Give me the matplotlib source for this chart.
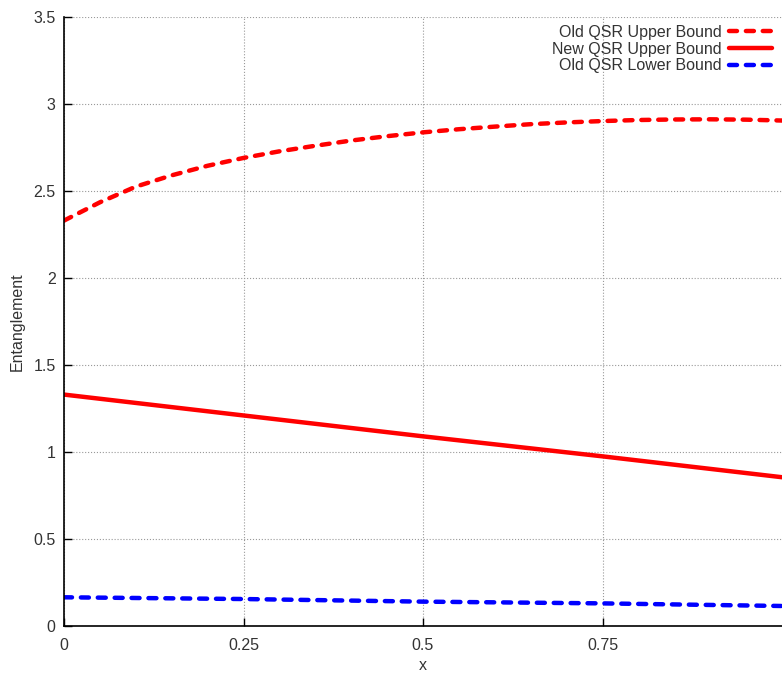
import matplotlib
matplotlib.use("Agg")
import matplotlib.pyplot as plt

# values
x = [0.0, 0.05, 0.1, 0.15, 0.2, 0.25, 0.3, 0.35, 0.4, 0.45, 0.5,
     0.55, 0.6, 0.65, 0.7, 0.75, 0.8, 0.85, 0.9, 0.95, 1.0]
old_upper = [2.33, 2.435, 2.525, 2.59, 2.645, 2.69, 2.728, 2.76, 2.79, 2.815, 2.837,
             2.855, 2.87, 2.884, 2.894, 2.902, 2.908, 2.911, 2.912, 2.91, 2.905]
new_upper = [1.33, 1.306, 1.282, 1.258, 1.234, 1.21, 1.186, 1.162, 1.138, 1.114, 1.09,
             1.067, 1.044, 1.021, 0.998, 0.975, 0.951, 0.927, 0.903, 0.879, 0.855]
old_lower = [0.165, 0.163, 0.161, 0.159, 0.157, 0.155, 0.152, 0.149, 0.146, 0.143, 0.14,
             0.138, 0.136, 0.134, 0.132, 0.13, 0.127, 0.124, 0.121, 0.118, 0.115]

xticks = [0, 0.25, 0.5, 0.75]
xtick_labels = ["0", "0.25", "0.5", "0.75"]
yticks = [0, 0.5, 1, 1.5, 2, 2.5, 3, 3.5]
ytick_labels = ["0", "0.5", "1", "1.5", "2", "2.5", "3", "3.5"]

plt.rcParams['font.family'] = ['Liberation Sans', 'DejaVu Sans']

fig = plt.figure(figsize=(7.82, 6.73), dpi=100)
ax = fig.add_axes([64/782, 47/673, 718/782, 609/673])

ax.plot(x, old_upper, color='red', lw=3.2, dashes=(1.8, 2.0), dash_capstyle='round',
        label='Old QSR Upper Bound')
ax.plot(x, new_upper, color='red', lw=3.2, solid_capstyle='round', label='New QSR Upper Bound')
ax.plot(x, old_lower, color='blue', lw=3.2, dashes=(1.8, 2.0), dash_capstyle='round',
        label='Old QSR Lower Bound')

ax.set_xlim(0, 1)
ax.set_ylim(0, 3.5)
ax.set_xticks(xticks)
ax.set_xticklabels(xtick_labels)
ax.set_yticks(yticks)
ax.set_yticklabels(ytick_labels)
ax.tick_params(direction='in', length=6, width=1, labelsize=11.5, colors='black',
               labelcolor='#333333', pad=6)
ax.tick_params(axis='x', pad=9)
ax.grid(True, color='#999999', linestyle=':', linewidth=0.8)
ax.spines['top'].set_visible(False)
ax.spines['right'].set_visible(False)
ax.spines['left'].set_linewidth(1.2)
ax.spines['bottom'].set_linewidth(1.2)

ax.set_xlabel('x', fontsize=11.5, color='#333333', labelpad=3)
ax.set_ylabel('Entanglement', fontsize=11.5, color='#333333', labelpad=6)

leg = ax.legend(loc='upper right', frameon=False, markerfirst=False, fontsize=11.5,
                handlelength=2.7, handletextpad=0.45, labelspacing=0.1,
                borderaxespad=0.2, borderpad=0.3, bbox_to_anchor=(0.997, 1.0))
for t in leg.get_texts():
    t.set_color('#333333')

fig.savefig('out.png', dpi=100)
